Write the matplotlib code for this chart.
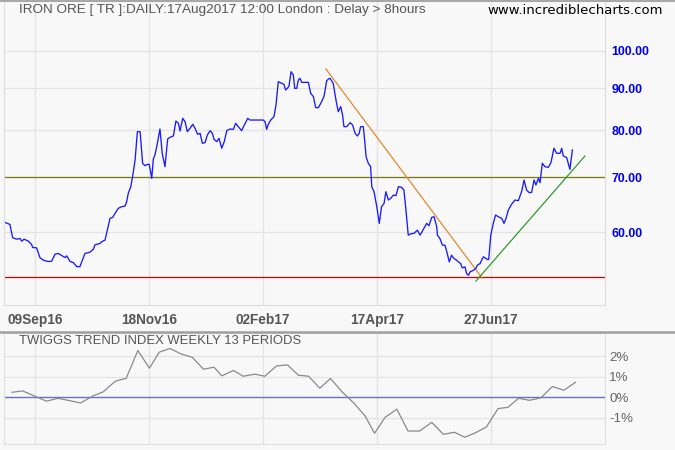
import matplotlib
matplotlib.use('Agg')
import matplotlib.pyplot as plt
from matplotlib.ticker import NullLocator
from matplotlib.lines import Line2D

# ---------------- data ----------------
title = "IRON ORE [ TR ]:DAILY:17Aug2017 12:00 London : Delay > 8hours"
site = "www.incrediblecharts.com"
ind_title = "TWIGGS TREND INDEX WEEKLY 13 PERIODS"

# x axis: trading-day index, 0 = 09Sep16
tick_pos = [0, 50, 100, 150, 200]
tick_labels = ['09Sep16', '18Nov16', '02Feb17', '17Apr17', '27Jun17']

price_x = [-13.2, -11.0, -9.8, -8.0, -6.6, -5.8, -4.8, -2.9, -1.5, -1.0, 0.7, 2.2, 3.7, 5.8, 7.3,
           8.8, 10.2, 11.7, 13.2, 13.9, 15.4, 16.8, 18.3, 19.7, 21.2, 21.9, 24.1, 25.6, 26.3, 28.5,
           29.2, 30.7, 31.7, 32.9, 34.1, 35.1, 36.5, 38.0, 39.5, 40.2, 40.9, 42.0, 42.8, 43.9, 44.9,
           46.1, 47.2, 48.2, 49.3, 50.1, 51.2, 51.9, 52.6, 53.4, 54.8, 55.8, 57.0, 58.2, 59.2, 60.7,
           61.8, 62.9, 63.6, 64.8, 65.8, 66.8, 68.0, 69.2, 70.2, 71.3, 72.4, 73.4, 74.6, 75.6, 76.8,
           77.8, 78.5, 79.7, 80.7, 81.9, 83.0, 84.1, 85.5, 87.0, 88.0, 89.2, 90.6, 91.8, 93.3, 94.3,
           100.1, 100.9, 101.6, 102.3, 103.4, 104.8, 105.7, 106.7, 108.2, 109.2, 109.9, 110.7, 111.4,
           112.3, 113.3, 113.9, 114.8, 115.5, 116.2, 117.0, 118.4, 119.9, 120.9, 122.1, 123.1, 124.3,
           125.7, 126.8, 127.9, 128.7, 129.4, 130.8, 132.0, 133.0, 134.1, 134.9, 135.5, 136.7, 138.2,
           139.3, 140.4, 141.4, 142.2, 142.8, 144.0, 144.7, 145.2, 146.2, 147.2, 147.7, 148.7, 149.9,
           151.0, 152.0, 153.1, 153.9, 155.0, 156.0, 157.2, 158.3, 159.4, 160.8, 161.8, 162.7, 163.7,
           165.2, 166.2, 167.7, 168.9, 170.3, 171.8, 172.8, 174.0, 175.0, 176.2, 176.5, 177.6, 178.7,
           179.8, 180.8, 181.7, 182.7, 183.8, 184.9, 185.7, 186.7, 187.4, 188.6, 189.3, 190.1, 190.8,
           192.3, 193.3, 194.0, 195.2, 195.9, 196.6, 197.4, 198.4, 199.0, 199.9, 201.0, 202.0, 203.2,
           204.7, 205.7, 206.6, 207.6, 209.1, 210.5, 212.0, 213.5, 214.5, 215.6, 216.8, 217.8, 218.9,
           219.7, 220.8, 221.5, 222.5, 223.7, 225.1, 226.3, 227.6, 228.8, 230.3, 231.0, 231.7, 233.2,
           234.6, 235.7]
price_y = [61.65, 61.30, 59.02, 58.80, 58.91, 58.47, 58.80, 58.47, 57.92, 57.43, 57.38, 55.78, 55.41,
           55.20, 55.26, 56.36, 56.47, 56.15, 55.83, 56.09, 55.20, 55.04, 54.42, 54.42, 55.83, 56.47,
           56.68, 57.17, 57.87, 58.09, 58.36, 58.64, 60.32, 62.35, 62.53, 63.24, 64.14, 64.44, 64.56,
           65.36, 66.92, 68.18, 70.14, 73.52, 79.64, 79.64, 72.83, 72.35, 72.62, 72.62, 69.81, 73.74,
           74.58, 76.35, 80.24, 74.93, 72.14, 78.02, 78.38, 78.68, 82.07, 81.53, 79.79, 82.69, 81.92,
           79.64, 80.39, 81.31, 80.39, 79.05, 79.27, 77.07, 77.22, 78.90, 79.86, 79.27, 77.95, 77.43,
           78.16, 76.00, 77.43, 79.86, 80.24, 80.17, 81.53, 80.77, 79.86, 81.15, 82.69, 82.30, 82.30,
           81.92, 80.17, 81.31, 82.30, 83.08, 85.87, 91.71, 91.28, 91.02, 89.58, 90.00, 90.59, 94.33,
           93.44, 90.00, 90.00, 92.14, 92.58, 91.53, 91.53, 91.53, 88.75, 87.92, 85.23, 85.23, 86.68,
           88.08, 91.88, 92.41, 92.58, 91.28, 87.09, 84.26, 85.47, 83.47, 80.77, 80.77, 81.69, 81.15,
           79.27, 78.68, 79.27, 80.77, 80.77, 77.07, 74.23, 72.83, 72.14, 68.18, 67.23, 64.44, 61.48,
           64.44, 65.05, 67.23, 65.67, 65.98, 66.60, 66.48, 68.18, 68.06, 67.55, 63.84, 59.47, 59.75,
           59.75, 60.32, 59.47, 60.43, 61.48, 61.07, 62.53, 62.65, 60.89, 59.47, 58.91, 57.81, 57.81,
           56.47, 55.15, 56.20, 55.67, 55.41, 55.15, 54.89, 54.22, 54.37, 53.36, 53.10, 53.61, 53.86,
           54.12, 54.63, 54.89, 55.41, 55.94, 55.78, 55.52, 55.52, 59.47, 61.48, 62.94, 62.65, 62.35,
           61.48, 62.35, 63.84, 64.93, 65.67, 65.55, 67.36, 69.48, 67.55, 67.04, 67.10, 69.48, 68.51,
           69.81, 68.96, 72.83, 72.14, 72.01, 72.97, 76.00, 74.93, 74.93, 76.00, 74.37, 74.02, 71.60,
           75.64]

resistance = 70.0
support = 52.8
down_trend_x = [127.6, 196.1]
down_trend_y = [95.05, 52.70]
up_trend_x = [193.4, 241.2]
up_trend_y = [52.25, 74.35]

price_ticks = [60, 70, 80, 90, 100]

ind_x = [-10.1, -5.5, -0.2, 5.0, 10.1, 14.9, 20.0, 25.3, 29.9, 35.2, 40.0, 45.1, 50.2, 54.5, 59.2,
         63.9, 69.0, 73.9, 78.5, 81.9, 87.1, 91.3, 96.4, 100.8, 105.9, 110.8, 115.5, 120.0, 124.9,
         129.6, 134.7, 139.9, 144.8, 148.9, 153.6, 158.7, 163.6, 168.7, 174.0, 179.1, 183.9, 188.5,
         193.3, 198.0, 203.1, 207.4, 212.1, 216.9, 222.0, 226.9, 232.0, 237.1]
ind_y = [0.24, 0.31, 0.06, -0.19, -0.05, -0.16, -0.28, 0.06, 0.26, 0.78, 0.92, 2.27, 1.41, 2.19,
         2.37, 2.11, 1.94, 1.36, 1.46, 1.04, 1.30, 1.02, 1.12, 1.02, 1.52, 1.57, 1.07, 1.02, 0.44,
         0.91, 0.26, -0.29, -0.91, -1.75, -0.97, -0.58, -1.64, -1.64, -1.22, -1.80, -1.70, -1.94,
         -1.72, -1.44, -0.55, -0.49, -0.05, -0.15, -0.02, 0.52, 0.34, 0.73]
ind_ticks = [-1, 0, 1, 2]
ind_labels = ['-1%', '0%', '1%', '2%']

# ---------------- figure ----------------
W, H = 675, 450
BG = '#f8f8f8'
GRID = '#e4e4e4'
narrow = ['Liberation Sans Narrow', 'Liberation Sans', 'DejaVu Sans']

fig = plt.figure(figsize=(W / 100, H / 100), dpi=100, facecolor=BG)

def box(x0, y0, x1, y1):
    return [x0 / W, 1 - y1 / H, (x1 - x0) / W, (y1 - y0) / H]

xlim = (-13.6, 250)

# upper price panel
ax = fig.add_axes(box(4, 2, 605, 305), facecolor=BG)
ax.set_yscale('log')
ax.set_xlim(*xlim)
ax.set_ylim(48.83, 114.83)
ax.set_yticks(price_ticks)
ax.set_yticklabels(['%.2f' % v for v in price_ticks])
ax.yaxis.set_minor_locator(NullLocator())
ax.yaxis.tick_right()
ax.tick_params(axis='y', length=0, pad=4.5, labelcolor='#0000ee')
for lab in ax.get_yticklabels():
    lab.set_fontfamily(['Liberation Sans', 'DejaVu Sans'])
    lab.set_fontweight('bold')
    lab.set_fontsize(8.9)
ax.set_xticks(tick_pos)
ax.set_xticklabels(tick_labels)
ax.tick_params(axis='x', length=0, pad=6, labelcolor='#555555')
for lab in ax.get_xticklabels():
    lab.set_fontfamily(narrow)
    lab.set_fontweight('bold')
    lab.set_fontsize(9.8)
ax.grid(True, color=GRID, lw=1)
ax.set_axisbelow(True)
for s in ['left', 'right', 'bottom']:
    ax.spines[s].set_color('#dddddd')
ax.spines['top'].set_visible(False)

ax.axhline(resistance, color='#7a7a10', lw=0.9)
ax.axhline(support, color='#d00000', lw=0.9)
ax.plot(down_trend_x, down_trend_y, color='#e08a30', lw=0.9)
ax.plot(up_trend_x, up_trend_y, color='#2e9a2e', lw=0.9)
ax.plot(price_x, price_y, color='#1a1aff', lw=0.95)

fig.text(19 / W, 1 - 10 / H, title, fontsize=9.7, family=narrow, color='#555555',
         va='center', ha='left')
fig.text(663 / W, 1 - 10 / H, site, fontsize=9.5, family=['DejaVu Sans'], color='#000000',
         va='center', ha='right')

# lower indicator panel
ax2 = fig.add_axes(box(4, 333, 605, 444), facecolor=BG)
ax2.set_xlim(*xlim)
ax2.set_ylim(-2.27, 3.12)
ax2.set_xticks(tick_pos)
ax2.set_xticklabels([])
ax2.set_yticks(ind_ticks)
ax2.set_yticklabels(ind_labels)
ax2.yaxis.tick_right()
ax2.tick_params(axis='both', length=0)
ax2.tick_params(axis='y', pad=3, labelcolor='#666666')
for lab in ax2.get_yticklabels():
    lab.set_fontfamily(narrow)
    lab.set_fontsize(9.6)
ax2.grid(True, color=GRID, lw=1)
ax2.set_axisbelow(True)
for s in ['left', 'right', 'bottom', 'top']:
    ax2.spines[s].set_color('#e0e0e0')
ax2.axhline(0, color='#7070c0', lw=1.0)
ax2.plot(ind_x, ind_y, color='#8a8a8a', lw=0.9)
fig.text(19 / W, 1 - 341 / H, ind_title, fontsize=9.4, family=narrow, color='#555555',
         va='center', ha='left')

# separators
fig.add_artist(Line2D([0, 1], [1 - 1 / H, 1 - 1 / H], color='#a8a8a8', lw=1.5,
                      transform=fig.transFigure))
fig.add_artist(Line2D([0, 1], [1 - 332 / H, 1 - 332 / H], color='#a0a0a0', lw=1.8,
                      transform=fig.transFigure))

fig.savefig('out.png', dpi=100, facecolor=BG)
